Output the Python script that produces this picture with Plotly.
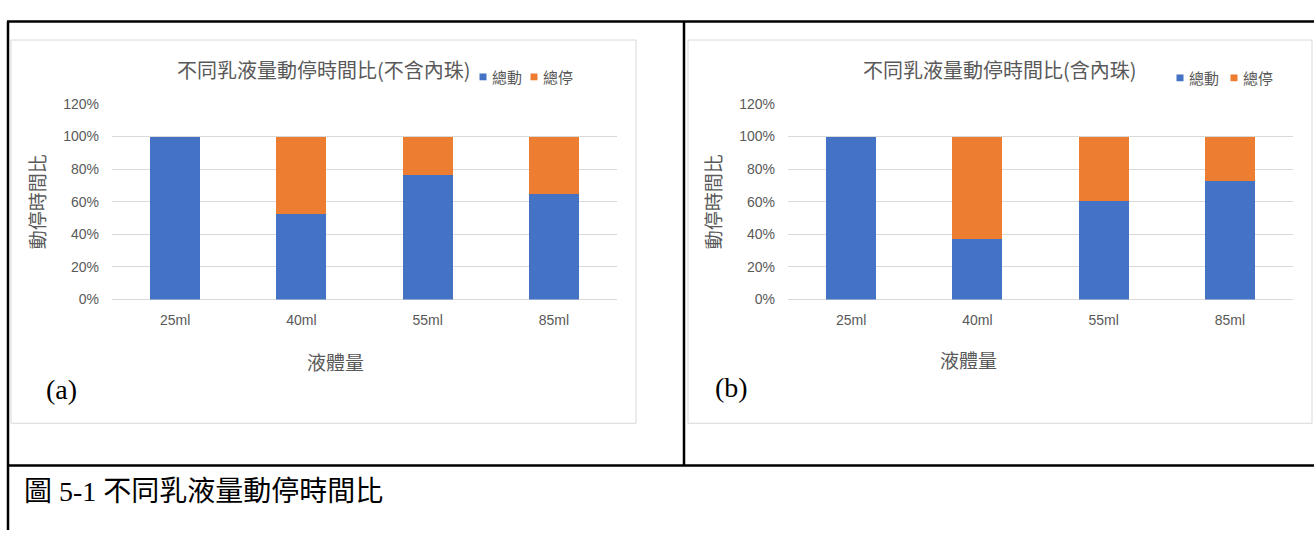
import plotly.graph_objects as go

# ---- data -------------------------------------------------------------
volumes = ["25ml", "40ml", "55ml", "85ml"]

# (a) without inner beads
move_a = [1.00, 0.524, 0.766, 0.647]   # 總動
stop_a = [0.00, 0.476, 0.234, 0.353]   # 總停

# (b) with inner beads
move_b = [1.00, 0.370, 0.604, 0.730]
stop_b = [0.00, 0.626, 0.396, 0.270]

y_ticks = [0, 0.2, 0.4, 0.6, 0.8, 1.0, 1.2]
y_tick_text = ["0%", "20%", "40%", "60%", "80%", "100%", "120%"]

series_names = ["總動", "總停"]
titles = ["不同乳液量動停時間比(不含內珠)", "不同乳液量動停時間比(含內珠)"]
panel_tags = ["(a)", "(b)"]
x_title = "液體量"
y_title = "動停時間比"
caption = "圖 5-1 不同乳液量動停時間比"

# ---- styling ----------------------------------------------------------
W, H = 1314, 538
BLUE, ORANGE = "#4472C4", "#ED7D31"
GREY_TXT, GRID = "#595959", "#D9D9D9"
CJK = "Noto Sans CJK TC"
TICK_FONT = "Liberation Sans Narrow, Liberation Sans, " + CJK
SERIF = "Liberation Serif, Noto Sans CJK TC"


def px(x):
    """pixel column -> paper fraction"""
    return x / W


def py(y):
    """pixel row (from top) -> paper fraction"""
    return 1 - y / H


fig = go.Figure()

panels = [
    dict(move=move_a, stop=stop_a, xa="x", ya="y"),
    dict(move=move_b, stop=stop_b, xa="x2", ya="y2"),
]

for p in panels:
    for vals, name, col in ((p["move"], series_names[0], BLUE),
                            (p["stop"], series_names[1], ORANGE)):
        fig.add_trace(go.Bar(
            x=volumes, y=vals, name=name, marker_color=col,
            marker_line_width=0, xaxis=p["xa"], yaxis=p["ya"],
            showlegend=False,
            hovertemplate="%{x}: %{y:.0%}<extra>" + name + "</extra>",
        ))

y_dom = [py(300.5), py(98.9)]
axis_common_x = dict(showgrid=False, showline=False, zeroline=False,
                     ticks="", tickfont=dict(family=TICK_FONT, size=14, color=GREY_TXT),
                     ticklabelstandoff=10, fixedrange=True)
axis_common_y = dict(range=[0, 1.2], tickvals=y_ticks, ticktext=y_tick_text,
                     showgrid=True, gridcolor=GRID, gridwidth=1,
                     zeroline=True, zerolinecolor=GRID, zerolinewidth=1,
                     showline=False, ticks="", ticklabelstandoff=12,
                     tickfont=dict(family=TICK_FONT, size=14, color=GREY_TXT),
                     title=dict(text=y_title, standoff=12,
                                font=dict(family=CJK, size=19, color=GREY_TXT)),
                     fixedrange=True)

fig.update_layout(
    width=W, height=H,
    margin=dict(l=0, r=0, t=0, b=0),
    paper_bgcolor="white", plot_bgcolor="white",
    barmode="stack", bargap=0.603,
    xaxis=dict(domain=[px(112), px(617)], anchor="y", **axis_common_x),
    yaxis=dict(domain=y_dom, anchor="x", **axis_common_y),
    xaxis2=dict(domain=[px(788), px(1293)], anchor="y2", **axis_common_x),
    yaxis2=dict(domain=y_dom, anchor="x2", **axis_common_y),
)

shapes = []
annotations = []

# chart frames
for x0, x1 in ((11, 636), (688, 1312)):
    shapes.append(dict(type="rect", xref="paper", yref="paper",
                       x0=px(x0), x1=px(x1), y0=py(428), y1=py(33),
                       line=dict(color=GRID, width=1), layer="below"))

# table rules
for x0, y0, x1, y1 in ((7, 14, W, 14), (8, 14, 8, H), (684, 14, 684, 471.5),
                       (7, 471.5, W, 471.5)):
    shapes.append(dict(type="line", xref="paper", yref="paper",
                       x0=px(x0), y0=py(y0), x1=px(x1), y1=py(y1),
                       line=dict(color="black", width=2.5)))

# titles, axis titles, panel tags, legends
title_pos = [(324, 63), (1000, 63)]
xtitle_pos = [(335, 364), (968, 362)]
tag_pos = [(61, 393), (731, 391)]
legend_pos = [(483, 534, 71), (1180, 1234, 72)]

for i in range(2):
    annotations.append(dict(text=titles[i], xref="paper", yref="paper",
                            x=px(title_pos[i][0]), y=py(title_pos[i][1]),
                            xanchor="center", yanchor="middle", showarrow=False,
                            font=dict(family=CJK, size=20, color=GREY_TXT)))
    annotations.append(dict(text=x_title, xref="paper", yref="paper",
                            x=px(xtitle_pos[i][0]), y=py(xtitle_pos[i][1]),
                            xanchor="center", yanchor="middle", showarrow=False,
                            font=dict(family=CJK, size=19, color=GREY_TXT)))
    annotations.append(dict(text=panel_tags[i], xref="paper", yref="paper",
                            x=px(tag_pos[i][0]), y=py(tag_pos[i][1]),
                            xanchor="center", yanchor="middle", showarrow=False,
                            font=dict(family=SERIF, size=28, color="black")))
    bx, ox, ly = legend_pos[i]
    for sx, col, name in ((bx, BLUE, series_names[0]), (ox, ORANGE, series_names[1])):
        shapes.append(dict(type="rect", xref="paper", yref="paper",
                           x0=px(sx - 3.5), x1=px(sx + 3.5),
                           y0=py(ly + 3.5), y1=py(ly - 3.5),
                           fillcolor=col, line=dict(width=0)))
        annotations.append(dict(text=name, xref="paper", yref="paper",
                                x=px(sx + 7), y=py(ly), xanchor="left",
                                yanchor="middle", showarrow=False,
                                font=dict(family=CJK, size=15, color=GREY_TXT)))

annotations.append(dict(text=caption, xref="paper", yref="paper",
                        x=px(22), y=py(498), xanchor="left", yanchor="middle",
                        showarrow=False,
                        font=dict(family=SERIF, size=28, color="black")))

fig.update_layout(shapes=shapes, annotations=annotations)

fig.write_html("out.html", config={"displayModeBar": False})
